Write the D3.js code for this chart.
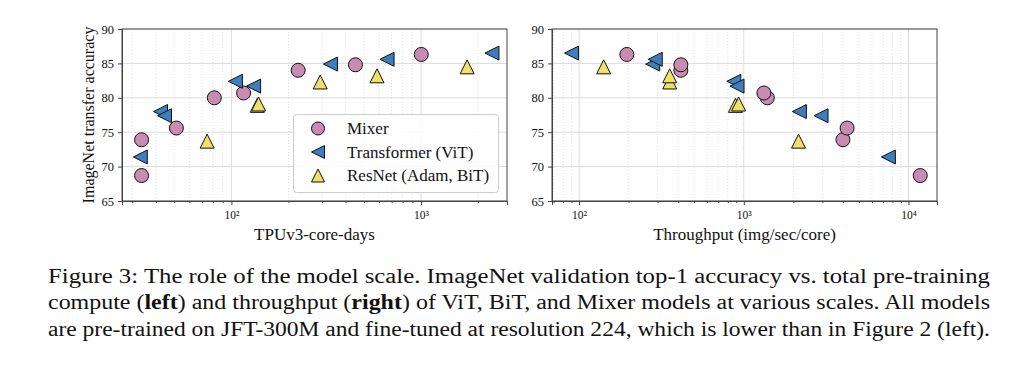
<!DOCTYPE html>
<html><head><meta charset="utf-8">
<script src="https://cdn.jsdelivr.net/npm/d3@7"></script>
<style>
body{margin:0;background:#fff;}
svg{display:block;}
text{font-family:"Liberation Serif","Times New Roman",serif;fill:#111;}
</style></head>
<body><svg id="c" width="1024" height="370"></svg>
<script>
// ---- data ----
const seriesNames = ["Mixer", "Transformer (ViT)", "ResNet (Adam, BiT)"];
const mixerAcc        = [68.7, 73.9, 75.6, 80.0, 80.7, 84.0, 84.8, 86.3];
const mixerCompute    = [33.6, 33.6, 51.3, 81.3, 116, 225, 451, 1003];
const mixerThroughput = [11790, 4000, 4240, 1390, 1325, 415, 415, 195];
const vitAcc          = [71.4, 78.0, 77.4, 82.4, 81.7, 84.9, 85.6, 86.5];
const vitCompute      = [33.1, 42.3, 44.4, 105, 131, 333, 662, 2366];
const vitThroughput   = [7550, 2175, 2945, 870, 910, 280, 290, 90];
const resAcc          = [73.7, 78.9, 79.1, 82.3, 83.2, 84.5];
const resCompute      = [74.5, 137, 139, 294, 586, 1750];
const resThroughput   = [2150, 890, 930, 355, 355, 141];
const yTicks = [65, 70, 75, 80, 85, 90];
const captionLines = [
  [["Figure 3: The role of the model scale.  ImageNet validation top-1 accuracy vs. total pre-training", false]],
  [["compute (", false], ["left", true], [") and throughput (", false], ["right", true], [") of ViT, BiT, and Mixer models at various scales. All models", false]],
  [["are pre-trained on JFT-300M and fine-tuned at resolution 224, which is lower than in Figure 2 (left).", false]]
];

const colors = ["#c98bb0", "#3d7ebf", "#efe06a"];
const shapes = ["circle", "left", "up"];

const svg = d3.select("#c");

function markerPath(shape, r) {
  if (shape === "left") return `M${-r},0 L${r},${-r} L${r},${r} Z`;
  if (shape === "up") return `M0,${-r} L${r},${r} L${-r},${r} Z`;
  return null;
}
function drawMarker(g, shape, color, cx, cy, r) {
  if (shape === "circle") {
    g.append("circle").attr("cx", cx).attr("cy", cy).attr("r", r)
      .attr("fill", color).attr("stroke", "#111").attr("stroke-width", 1);
  } else {
    g.append("path").attr("d", markerPath(shape, r)).attr("transform", `translate(${cx},${cy})`)
      .attr("fill", color).attr("stroke", "#111").attr("stroke-width", 1);
  }
}

const supMap = {"0":"⁰","1":"¹","2":"²","3":"³","4":"⁴","5":"⁵"};

function panel(opts) {
  const {x0, x1, y0, y1, xDomain, xMajor, xLabel, yLabel, data} = opts;
  const x = d3.scaleLog().domain(xDomain).range([x0, x1]);
  const y = d3.scaleLinear().domain([65, 90]).range([y1, y0]);
  const g = svg.append("g");

  const minor = [];
  const lo = Math.floor(Math.log10(xDomain[0])), hi = Math.ceil(Math.log10(xDomain[1]));
  for (let e = lo; e <= hi; e++) for (let m = 2; m <= 9; m++) {
    const v = m * Math.pow(10, e);
    if (v > xDomain[0] && v < xDomain[1]) minor.push(v);
  }
  g.append("g").selectAll("line").data(minor).join("line")
    .attr("x1", d => x(d)).attr("x2", d => x(d)).attr("y1", y0).attr("y2", y1)
    .attr("stroke", "#d8d8d8").attr("stroke-width", 0.8).attr("stroke-dasharray", "1,2");
  g.append("g").selectAll("line").data(xMajor).join("line")
    .attr("x1", d => x(d)).attr("x2", d => x(d)).attr("y1", y0).attr("y2", y1)
    .attr("stroke", "#dcdcdc").attr("stroke-width", 1);
  g.append("g").selectAll("line").data(yTicks).join("line")
    .attr("x1", x0).attr("x2", x1).attr("y1", d => y(d)).attr("y2", d => y(d))
    .attr("stroke", "#dcdcdc").attr("stroke-width", 1);

  const xAxis = d3.axisBottom(x).tickValues(xMajor).tickSize(4)
    .tickFormat(d => "10" + String(Math.round(Math.log10(d))).split("").map(c => supMap[c]).join(""));
  const xg = g.append("g").attr("transform", `translate(0,${y1})`).call(xAxis);
  const xmg = g.append("g").attr("transform", `translate(0,${y1})`)
    .call(d3.axisBottom(x).tickValues(minor).tickSize(2).tickFormat(""));
  xmg.select(".domain").remove();
  xg.selectAll("text").attr("font-size", 11.5).attr("dy", "0.95em");
  const yg = g.append("g").attr("transform", `translate(${x0},0)`)
    .call(d3.axisLeft(y).tickValues(yTicks).tickSize(4).tickFormat(d3.format("d")));
  yg.selectAll("text").attr("font-size", 12.5).attr("dx", "-1px");
  [xg, xmg, yg].forEach(a => { a.selectAll("line").attr("stroke", "#444"); a.select(".domain").attr("stroke", "#444"); });
  g.append("rect").attr("x", x0).attr("y", y0).attr("width", x1 - x0).attr("height", y1 - y0)
    .attr("fill", "none").attr("stroke", "#444").attr("stroke-width", 1);

  const pts = g.append("g");
  data.forEach((s, si) => {
    s.xs.forEach((xv, i) => drawMarker(pts, shapes[si], colors[si], x(xv), y(s.acc[i]), 7));
  });

  g.append("text").attr("x", (x0 + x1) / 2).attr("y", y1 + 38.5).attr("text-anchor", "middle")
    .attr("font-size", 17).text(xLabel);
  if (yLabel) {
    g.append("text").attr("transform", `translate(${x0 - 28},${(y0 + y1) / 2}) rotate(-90)`)
      .attr("text-anchor", "middle").attr("font-size", 16).text(yLabel);
  }
}

panel({
  x0: 122, x1: 507, y0: 29, y1: 201,
  xDomain: [26.5, 2840], xMajor: [100, 1000],
  xLabel: "TPUv3-core-days", yLabel: "ImageNet transfer accuracy",
  data: [
    {xs: mixerCompute, acc: mixerAcc},
    {xs: vitCompute, acc: vitAcc},
    {xs: resCompute, acc: resAcc}
  ]
});
panel({
  x0: 552, x1: 937, y0: 29, y1: 201,
  xDomain: [68.5, 14900], xMajor: [100, 1000, 10000],
  xLabel: "Throughput (img/sec/core)", yLabel: null,
  data: [
    {xs: mixerThroughput, acc: mixerAcc},
    {xs: vitThroughput, acc: vitAcc},
    {xs: resThroughput, acc: resAcc}
  ]
});

// legend
const lg = svg.append("g");
lg.append("rect").attr("x", 293.5).attr("y", 114.5).attr("width", 205).attr("height", 78).attr("rx", 3)
  .attr("fill", "rgba(255,255,255,0.85)").attr("stroke", "#cccccc").attr("stroke-width", 1);
seriesNames.forEach((n, i) => {
  const cy = 128.5 + i * 23.5;
  drawMarker(lg, shapes[i], colors[i], 318, cy, 6.5);
  lg.append("text").attr("x", 347).attr("y", cy).attr("dy", "0.35em").attr("font-size", 17).text(n);
});

// caption (full-width lines)
const cap = svg.append("g");
captionLines.forEach((line, li) => {
  const t = cap.append("text").attr("x", 48).attr("y", 282.5 + li * 26.5).attr("font-size", 20.5)
    .attr("textLength", 942).attr("lengthAdjust", "spacingAndGlyphs");
  line.forEach(([s, b]) => t.append("tspan").attr("font-weight", b ? "bold" : "normal").text(s));
});
</script></body></html>
